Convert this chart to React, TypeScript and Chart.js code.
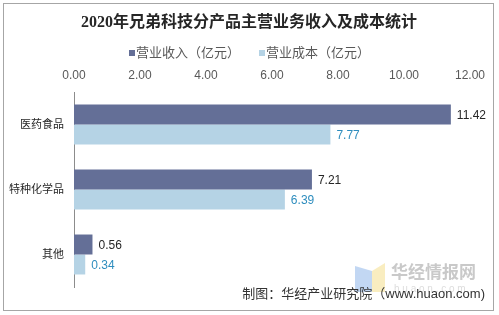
import React, { useEffect, useRef } from "react";
import { Chart, registerables } from "chart.js";

Chart.register(...registerables);

const categories = ["医药食品", "特种化学品", "其他"];
const revenue = [11.42, 7.21, 0.56];
const cost = [7.77, 6.39, 0.34];
const seriesNames = ["营业收入（亿元）", "营业成本（亿元）"];
const xTicks = [0, 2, 4, 6, 8, 10, 12];
const titleText = "2020年兄弟科技分产品主营业务收入及成本统计";
const captionText = "制图：华经产业研究院（www.huaon.com)";

const DARK = "#646F97";
const LIGHT = "#B5D3E5";
const SANS = "'Liberation Sans', 'Noto Sans CJK SC', sans-serif";

const decorPlugin = {
  id: "decor",
  afterDraw(chart: any) {
    const ctx = chart.ctx;
    ctx.save();
    // border
    ctx.strokeStyle = "#a6a6a6";
    ctx.lineWidth = 1;
    ctx.strokeRect(3.5, 3.5, 490, 307);
    // title
    ctx.fillStyle = "#262626";
    ctx.font = "bold 16px 'Liberation Serif', 'Noto Sans CJK SC', serif";
    ctx.textAlign = "center";
    ctx.textBaseline = "middle";
    ctx.fillText(titleText, 249, 23);
    // legend
    ctx.font = "13px " + SANS;
    ctx.textAlign = "left";
    const colors = [DARK, LIGHT];
    const xs = [129, 259];
    for (let i = 0; i < 2; i++) {
      ctx.fillStyle = colors[i];
      ctx.fillRect(xs[i], 50, 6, 6);
      ctx.fillStyle = "#595959";
      ctx.fillText(seriesNames[i], xs[i] + 7, 53);
    }
    // x tick labels (top)
    const xs2 = chart.scales.x;
    ctx.font = "12px " + SANS;
    ctx.fillStyle = "#595959";
    ctx.textAlign = "center";
    xTicks.forEach((v) => {
      ctx.fillText(v.toFixed(2), xs2.getPixelForValue(v), 76);
    });
    // data labels
    ctx.font = "12px " + SANS;
    ctx.textAlign = "left";
    chart.data.datasets.forEach((ds: any, di: number) => {
      const meta = chart.getDatasetMeta(di);
      ctx.fillStyle = di === 0 ? "#262626" : "#2E8DBE";
      meta.data.forEach((bar: any, i: number) => {
        ctx.fillText(Number(ds.data[i]).toFixed(2), bar.x + 6, bar.y + 1);
      });
    });
    // watermark
    ctx.globalAlpha = 0.55;
    ctx.fillStyle = "#8fb6ea";
    ctx.beginPath();
    ctx.moveTo(355, 266);
    ctx.lineTo(372, 271);
    ctx.lineTo(372, 292);
    ctx.lineTo(355, 292);
    ctx.closePath();
    ctx.fill();
    ctx.fillStyle = "#f4df8c";
    ctx.beginPath();
    ctx.moveTo(372, 271);
    ctx.lineTo(385, 263);
    ctx.lineTo(385, 292);
    ctx.lineTo(372, 292);
    ctx.closePath();
    ctx.fill();
    ctx.globalAlpha = 1;
    ctx.fillStyle = "#c9c9c9";
    ctx.font = "bold 17px 'Noto Sans CJK SC', sans-serif";
    ctx.textAlign = "left";
    ctx.fillText("华经情报网", 391, 272);
    ctx.fillStyle = "#dddddd";
    ctx.font = "10px " + SANS;
    ctx.fillText("h u a o n . c o m", 394, 289);
    // caption
    ctx.fillStyle = "#333333";
    ctx.font = "13px " + SANS;
    ctx.textAlign = "right";
    ctx.fillText(captionText, 485, 294);
    ctx.restore();
  },
};

export default function App() {
  const ref = useRef<HTMLCanvasElement>(null);
  useEffect(() => {
    document.body.style.margin = "0";
    const chart = new Chart(ref.current as HTMLCanvasElement, {
      type: "bar",
      data: {
        labels: categories,
        datasets: [
          { label: seriesNames[0], data: revenue, backgroundColor: DARK, categoryPercentage: 0.615, barPercentage: 1 },
          { label: seriesNames[1], data: cost, backgroundColor: LIGHT, categoryPercentage: 0.615, barPercentage: 1 },
        ],
      },
      options: {
        indexAxis: "y",
        animation: false,
        responsive: false,
        layout: { padding: { top: 92, bottom: 28, left: 0, right: 29 } },
        plugins: { legend: { display: false }, title: { display: false }, tooltip: { enabled: false } },
        scales: {
          x: {
            position: "top",
            min: xTicks[0],
            max: xTicks[xTicks.length - 1],
            ticks: { display: false },
            grid: { display: false, drawTicks: false },
            border: { display: false },
            afterFit: (s: any) => { s.height = 0; },
          },
          y: {
            ticks: { padding: 10, color: "#262626", font: { size: 11, family: SANS } },
            grid: { display: false, drawTicks: false },
            border: { display: true, color: "#8c8c8c" },
            afterFit: (s: any) => { s.width = 74; },
          },
        },
      },
      plugins: [decorPlugin],
    } as any);
    return () => chart.destroy();
  }, []);
  return (
    <div style={{ position: "absolute", left: 0, top: 0, width: 499, height: 315, background: "#fff" }}>
      <canvas ref={ref} width={499} height={315} style={{ display: "block" }} />
    </div>
  );
}
